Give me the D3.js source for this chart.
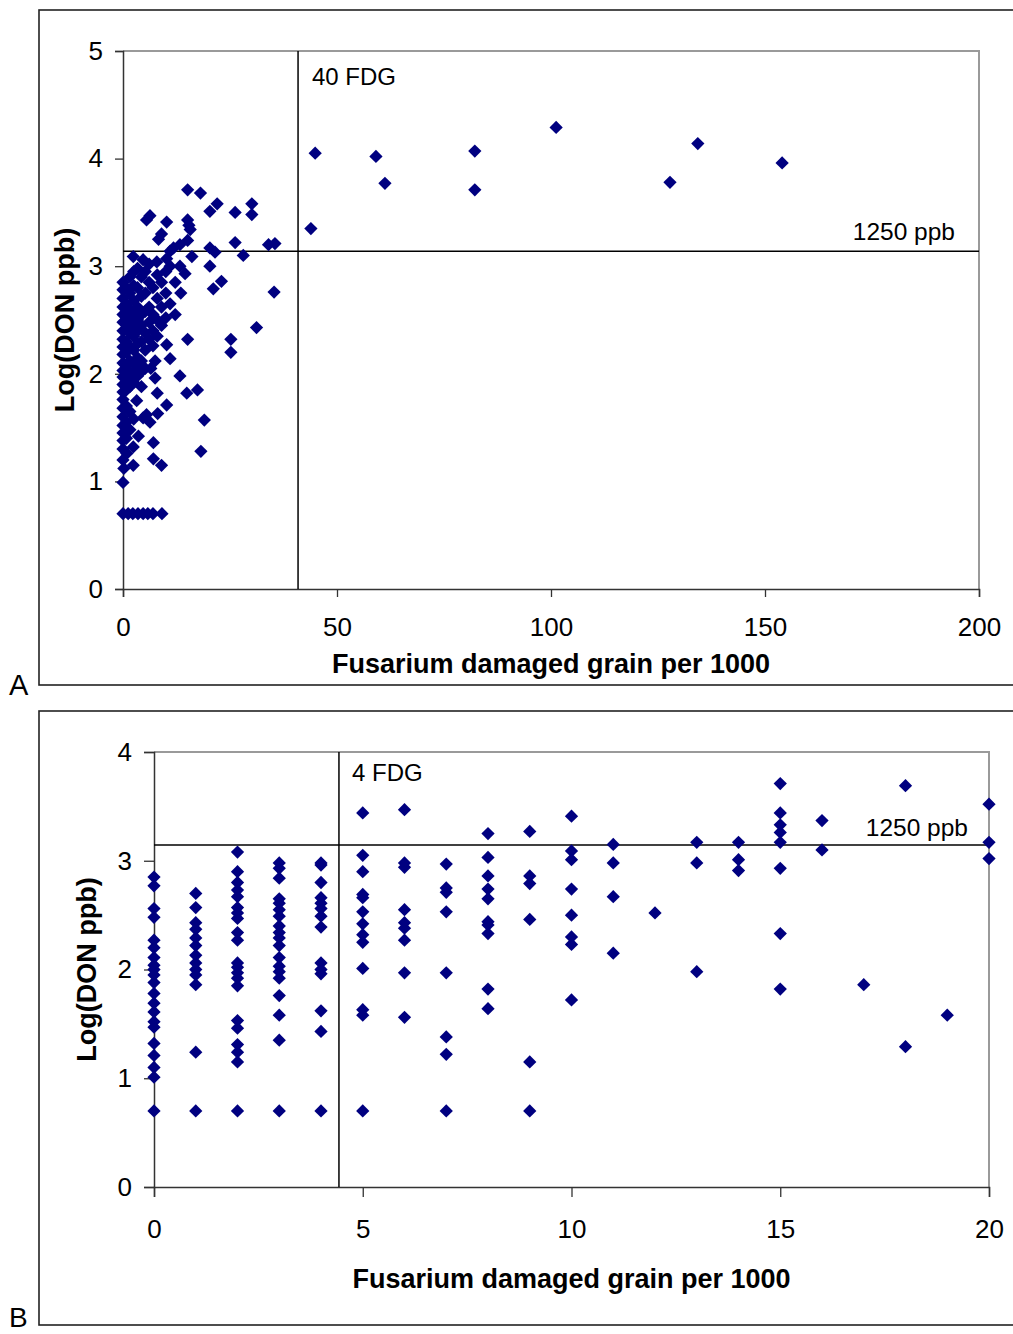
<!DOCTYPE html>
<html>
<head>
<meta charset="utf-8">
<script src="https://cdn.jsdelivr.net/npm/d3@7"></script>
<style>
  html, body { margin: 0; padding: 0; background: #fff; }
  svg { display: block; }
  text { font-family: "Liberation Sans", Arial, sans-serif; fill: #000; }
</style>
</head>
<body>
<svg id="chart" width="1013" height="1334"></svg>
<script>
// Panel A: Log(DON ppb) against Fusarium damaged grain per 1000 (0-200)
const pointsA = [
  [44.9,4.05],[59.1,4.02],[61.2,3.77],[82.2,4.07],[82.2,3.71],[101.2,4.29],[127.8,3.78],[134.3,4.14],[154,3.96],[43.9,3.35],
  [15.1,3.71],[18.1,3.68],[22.0,3.58],[20.3,3.51],[30.1,3.58],[30.1,3.48],[26.2,3.50],[5.5,3.43],[6.3,3.47],[10.2,3.41],
  [15.1,3.43],[15.4,3.38],[15.7,3.34],[9.0,3.30],[8.3,3.25],[15.1,3.24],[26.2,3.22],[34.0,3.20],[35.5,3.21],[20.3,3.17],
  [21.5,3.13],[28.1,3.10],[13.3,3.20],[11.8,3.17],[11.0,3.14],[2.4,3.09],[16.1,3.09],[4.7,3.06],[7.9,3.04],[10.2,3.07],
  [20.3,3.00],[13.3,3.00],[14.5,2.93],[23.0,2.86],[21.1,2.79],[35.3,2.76],[31.2,2.43],[15.1,2.32],[25.2,2.32],[25.2,2.20],
  [10.2,2.27],[11.0,2.14],[13.3,1.98],[7.5,1.96],[8.0,1.82],[14.9,1.82],[17.4,1.85],[3.2,1.75],[10.2,1.71],[8.1,1.63],
  [5.5,1.62],[4.7,1.59],[6.3,1.55],[19.0,1.57],[7.1,1.36],[3.6,1.42],[2.4,1.32],[0.9,1.26],[18.2,1.28],[7.1,1.21],
  [9.0,1.15],[2.4,1.15],[0.2,1.12],[0,0.99],
  [0,0.7],[1.2,0.7],[2.3,0.7],[3.5,0.7],[4.7,0.7],[5.8,0.7],[7.0,0.7],[9.1,0.7],
  [0,2.85],[0,2.78],[0,2.70],[0,2.62],[0,2.55],[0,2.48],[0,2.40],[0,2.32],[0,2.25],[0,2.18],[0,2.10],[0,2.03],
  [0,1.97],[0,1.90],[0,1.83],[0,1.76],[0,1.68],[0,1.60],[0,1.52],[0,1.45],[0,1.38],[0,1.30],[0,1.20],
  [0.8,2.80],[0.8,2.65],[0.8,2.52],[0.8,2.42],[0.8,2.30],[0.8,2.20],[0.8,2.08],[0.8,2.00],[0.8,1.92],[0.8,1.85],
  [0.8,1.70],[0.8,1.55],[0.8,1.40],
  [1.6,2.90],[1.6,2.75],[1.6,2.60],[1.6,2.50],[1.6,2.38],[1.6,2.25],[1.6,2.12],[1.6,2.02],[1.6,1.95],[1.6,1.88],
  [1.6,1.65],[1.6,1.48],
  [2.5,2.95],[2.5,2.82],[2.5,2.68],[2.5,2.56],[2.5,2.45],[2.5,2.35],[2.5,2.22],[2.5,2.10],[2.5,2.00],[2.5,1.92],[2.5,1.58],
  [3.4,2.98],[3.4,2.80],[3.4,2.62],[3.4,2.50],[3.4,2.40],[3.4,2.28],[3.4,2.15],[3.4,2.05],[3.4,1.98],
  [4.3,2.90],[4.3,2.72],[4.3,2.55],[4.3,2.45],[4.3,2.30],[4.3,2.12],[4.3,2.02],[4.3,1.88],
  [5.2,2.95],[5.2,2.75],[5.2,2.58],[5.2,2.38],[5.2,2.22],[5.2,2.05],
  [6.1,3.02],[6.1,2.85],[6.1,2.62],[6.1,2.48],[6.1,2.32],[6.5,2.05],
  [7.0,2.80],[7.0,2.55],[7.0,2.40],[7.0,2.26],[7.5,2.12],
  [8.0,2.92],[8.0,2.70],[8.0,2.50],[8.0,2.35],
  [9.0,2.85],[9.0,2.62],[9.0,2.45],
  [10.0,2.95],[10.0,2.75],[10.0,2.52],
  [11.0,3.00],[11.0,2.65],
  [12.2,2.85],[12.2,2.55],[13.5,2.75]
];

// Panel B: same measure, zoomed to 0-20 damaged grains per 1000
const pointsB = [
  [0,2.85],[0,2.77],[0,2.56],[0,2.48],[0,2.27],[0,2.20],[0,2.11],[0,2.04],[0,2.00],[0,1.95],[0,1.88],[0,1.78],
  [0,1.69],[0,1.61],[0,1.52],[0,1.47],[0,1.32],[0,1.21],[0,1.10],[0,1.01],[0,0.70],
  [1,2.70],[1,2.57],[1,2.43],[1,2.37],[1,2.29],[1,2.22],[1,2.13],[1,2.06],[1,2.00],[1,1.95],[1,1.86],[1,1.24],[1,0.70],
  [2,3.08],[2,2.90],[2,2.80],[2,2.73],[2,2.67],[2,2.57],[2,2.52],[2,2.47],[2,2.34],[2,2.27],[2,2.06],[2,2.02],
  [2,1.97],[2,1.92],[2,1.85],[2,1.53],[2,1.46],[2,1.31],[2,1.24],[2,1.15],[2,0.70],
  [3,2.98],[3,2.93],[3,2.84],[3,2.65],[3,2.61],[3,2.55],[3,2.49],[3,2.40],[3,2.34],[3,2.29],[3,2.22],[3,2.11],
  [3,2.03],[3,1.98],[3,1.92],[3,1.76],[3,1.58],[3,1.35],[3,0.70],
  [4,2.98],[4,2.96],[4,2.80],[4,2.66],[4,2.61],[4,2.56],[4,2.49],[4,2.39],[4,2.06],[4,2.00],[4,1.96],[4,1.62],[4,1.43],[4,0.70],
  [5,3.44],[5,3.05],[5,2.90],[5,2.69],[5,2.66],[5,2.53],[5,2.42],[5,2.32],[5,2.25],[5,2.01],[5,1.63],[5,1.58],[5,0.70],
  [6,3.47],[6,2.98],[6,2.94],[6,2.55],[6,2.43],[6,2.38],[6,2.27],[6,1.97],[6,1.56],
  [7,2.97],[7,2.75],[7,2.71],[7,2.53],[7,1.97],[7,1.38],[7,1.22],[7,0.70],
  [8,3.25],[8,3.03],[8,2.86],[8,2.74],[8,2.65],[8,2.44],[8,2.41],[8,2.33],[8,1.82],[8,1.64],
  [9,3.27],[9,2.86],[9,2.79],[9,2.46],[9,1.15],[9,0.70],
  [10,3.41],[10,3.09],[10,3.01],[10,2.74],[10,2.50],[10,2.30],[10,2.23],[10,1.72],
  [11,3.15],[11,2.98],[11,2.67],[11,2.15],
  [12,2.52],
  [13,3.17],[13,2.98],[13,1.98],
  [14,3.17],[14,3.01],[14,2.91],
  [15,3.71],[15,3.44],[15,3.33],[15,3.26],[15,3.17],[15,2.93],[15,2.33],[15,1.82],
  [16,3.37],[16,3.10],
  [17,1.86],
  [18,3.69],[18,1.29],
  [19,1.58],
  [20,3.52],[20,3.17],[20,3.02]
];

const xTicksA = [0, 50, 100, 150, 200];
const yTicksA = [0, 1, 2, 3, 4, 5];
const xTicksB = [0, 5, 10, 15, 20];
const yTicksB = [0, 1, 2, 3, 4];

// Threshold lines: FDG cut-off (x) and 1250 ppb (log value)
const cutA = { fdg: 40.9, don: 3.14, fdgLabel: "40 FDG", donLabel: "1250 ppb" };
const cutB = { fdg: 4.43, don: 3.145, fdgLabel: "4 FDG", donLabel: "1250 ppb" };

const xTitle = "Fusarium damaged grain per 1000";
const yTitle = "Log(DON ppb)";

const svg = d3.select("#chart");
const navy = "#000080";
const diamond = d3.symbol().type(d3.symbolSquare).size(88);

function panel(cfg) {
  const { frame, box, xDomain, yDomain, xTicks, yTicks, points, cut, letter, letterY, letterSize, tickLen,
          xLabelY, yTitleX, xTitleY, fdgLabelPos, donLabelPos } = cfg;

  // outer frame
  svg.append("rect")
    .attr("x", frame.x).attr("y", frame.y)
    .attr("width", frame.w).attr("height", frame.h)
    .attr("fill", "none").attr("stroke", "#222").attr("stroke-width", 1.6);

  svg.append("text")
    .attr("x", 9).attr("y", letterY)
    .attr("font-size", letterSize)
    .text(letter);

  const x = d3.scaleLinear().domain(xDomain).range([box.l, box.r]);
  const y = d3.scaleLinear().domain(yDomain).range([box.b, box.t]);

  // plot-area top and right edges
  svg.append("path")
    .attr("d", `M${box.l},${box.t}H${box.r}V${box.b}`)
    .attr("fill", "none").attr("stroke", "#9a9a9a").attr("stroke-width", 2);

  // y axis
  const yAxis = svg.append("g")
    .attr("transform", `translate(${box.l},0)`)
    .call(d3.axisLeft(y).tickValues(yTicks).tickFormat(d3.format("d"))
      .tickSize(tickLen).tickPadding(12));
  yAxis.select(".domain").attr("stroke", "#333").attr("stroke-width", 1.5);
  yAxis.selectAll(".tick line").attr("stroke", "#333").attr("stroke-width", 1.3);
  yAxis.selectAll(".tick text")
    .attr("font-size", 26).attr("font-family", "Liberation Sans, Arial, sans-serif")
    .attr("fill", "#000");

  // x axis
  const xAxis = svg.append("g")
    .attr("transform", `translate(0,${box.b})`)
    .call(d3.axisBottom(x).tickValues(xTicks).tickFormat(d3.format("d"))
      .tickSize(tickLen).tickPadding(0));
  xAxis.select(".domain").attr("stroke", "#333").attr("stroke-width", 1.5);
  xAxis.selectAll(".tick line").attr("stroke", "#333").attr("stroke-width", 1.3);
  xAxis.selectAll(".tick text")
    .attr("font-size", 26).attr("font-family", "Liberation Sans, Arial, sans-serif")
    .attr("fill", "#000")
    .attr("dy", null)
    .attr("y", xLabelY - box.b)
    .attr("dominant-baseline", "central");

  // threshold lines
  svg.append("line")
    .attr("x1", x(cut.fdg)).attr("x2", x(cut.fdg))
    .attr("y1", y(yDomain[1])).attr("y2", y(yDomain[0]))
    .attr("stroke", "#000").attr("stroke-width", 1.5);
  svg.append("line")
    .attr("x1", x(xDomain[0])).attr("x2", x(xDomain[1]))
    .attr("y1", y(cut.don)).attr("y2", y(cut.don))
    .attr("stroke", "#000").attr("stroke-width", 1.5);

  svg.append("text")
    .attr("x", fdgLabelPos[0]).attr("y", fdgLabelPos[1])
    .attr("font-size", 24).text(cut.fdgLabel);
  svg.append("text")
    .attr("x", donLabelPos[0]).attr("y", donLabelPos[1])
    .attr("font-size", 24.5).attr("text-anchor", "end").text(cut.donLabel);

  // data points as navy diamonds
  svg.append("g").selectAll("path")
    .data(points)
    .join("path")
    .attr("d", diamond)
    .attr("transform", d => `translate(${x(d[0])},${y(d[1])}) rotate(45)`)
    .attr("fill", navy);

  // axis titles
  svg.append("text")
    .attr("x", (box.l + box.r) / 2).attr("y", xTitleY)
    .attr("text-anchor", "middle").attr("font-size", 27).attr("font-weight", "bold")
    .text(xTitle);
  svg.append("text")
    .attr("transform", `translate(${yTitleX},${(box.t + box.b) / 2}) rotate(-90)`)
    .attr("text-anchor", "middle").attr("font-size", 27).attr("font-weight", "bold")
    .text(yTitle);
}

panel({
  frame: { x: 39, y: 10, w: 990, h: 675 },
  box: { l: 123, r: 979, t: 51, b: 589 },
  xDomain: [0, 200], yDomain: [0, 5],
  xTicks: xTicksA, yTicks: yTicksA,
  points: pointsA, cut: cutA, letter: "A", letterY: 695, letterSize: 29, tickLen: 8,
  xLabelY: 627, yTitleX: 74, xTitleY: 673,
  fdgLabelPos: [312, 85], donLabelPos: [955, 240]
});

panel({
  frame: { x: 39, y: 711, w: 990, h: 614 },
  box: { l: 154, r: 989, t: 752, b: 1187 },
  xDomain: [0, 20], yDomain: [0, 4],
  xTicks: xTicksB, yTicks: yTicksB,
  points: pointsB, cut: cutB, letter: "B", letterY: 1327, letterSize: 28, tickLen: 10,
  xLabelY: 1229, yTitleX: 96, xTitleY: 1288,
  fdgLabelPos: [352, 781], donLabelPos: [968, 836]
});
</script>
</body>
</html>
